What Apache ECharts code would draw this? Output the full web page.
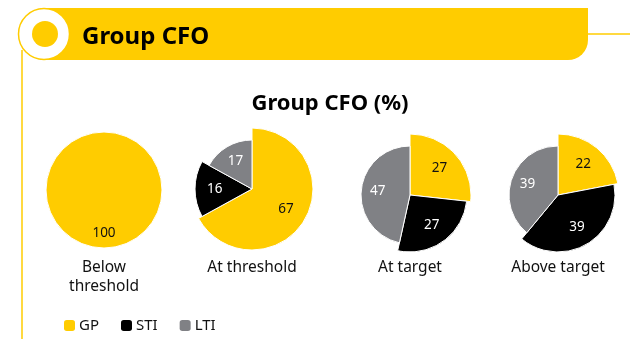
<!DOCTYPE html>
<html>
<head>
<meta charset="utf-8">
<script src="https://cdn.jsdelivr.net/npm/echarts@6/dist/echarts.min.js"></script>
<style>
  html, body { margin: 0; padding: 0; background: #fff; }
  #chart { width: 630px; height: 339px; }
</style>
</head>
<body>
<div id="chart"></div>
<script>
// Pay-mix scenarios for the Group CFO (% of total package)
const categories = ['Below\nthreshold', 'At threshold', 'At target', 'Above target'];
const components = ['GP', 'STI', 'LTI'];
const gpValues  = [100, 67, 27, 22];
const stiValues = [0, 16, 27, 39];
const ltiValues = [0, 17, 47, 39];

// Styling and layout
const COLORS = { GP: '#FFCC00', STI: '#000000', LTI: '#808185' };
const LABEL_COLORS = { GP: '#111111', STI: '#ffffff', LTI: '#ffffff' };
const YELLOW = '#FFCC00';
const FONT = '"Noto Sans", sans-serif';
const CENTERS = [[104, 190], [252, 189], [410, 195], [558, 195]];
const RADII = [[58, 58, 58], [61, 57, 49], [61, 57, 49], [61, 57, 49]];
const LABEL_RATIO = [0.7, 0.6, 0.6, 0.6];

const valuesBy = { GP: gpValues, STI: stiValues, LTI: ltiValues };

const series = [];
categories.forEach((cat, p) => {
  const vals = components.map(c => valuesBy[c][p]);
  components.forEach((comp, k) => {
    // one ring per component so each slice gets its own radius
    series.push({
      type: 'pie',
      name: comp,
      center: CENTERS[p],
      radius: [0, RADII[p][k]],
      startAngle: 90,
      clockwise: true,
      silent: true,
      animation: false,
      itemStyle: { color: COLORS[comp] },
      label: { show: false },
      labelLine: { show: false },
      data: components.map((c, i) => ({
        name: c,
        value: vals[i],
        itemStyle: i === k
          ? { color: COLORS[c], borderColor: '#ffffff', borderWidth: vals[i] > 0 ? 1 : 0 }
          : { color: 'transparent', borderWidth: 0 }
      }))
    });
    // transparent twin that only carries the value label
    series.push({
      type: 'pie',
      name: comp + ' value',
      center: CENTERS[p],
      radius: [0, RADII[p][k] * LABEL_RATIO[p] * 2],
      startAngle: 90,
      clockwise: true,
      silent: true,
      animation: false,
      labelLine: { show: false },
      data: components.map((c, i) => ({
        name: c,
        value: vals[i],
        itemStyle: { color: 'transparent', borderWidth: 0 },
        label: {
          show: i === k && vals[i] > 0,
          position: 'inside',
          formatter: '{c}',
          color: LABEL_COLORS[c],
          fontFamily: FONT,
          fontSize: 13.5
        }
      }))
    });
  });
});

const graphics = [
  // header band with rounded lower-right corner
  { type: 'rect', shape: { x: 40, y: 8, width: 548, height: 52, r: [0, 0, 20, 0] },
    style: { fill: YELLOW }, z: 1 },
  { type: 'line', shape: { x1: 588, y1: 34, x2: 630, y2: 34 },
    style: { stroke: YELLOW, lineWidth: 1.5 }, z: 1 },
  { type: 'line', shape: { x1: 22, y1: 50, x2: 22, y2: 339 },
    style: { stroke: YELLOW, lineWidth: 1.5 }, z: 1 },
  { type: 'circle', shape: { cx: 44, cy: 34, r: 25.5 },
    style: { fill: '#ffffff', stroke: YELLOW, lineWidth: 1.5 }, z: 2 },
  { type: 'circle', shape: { cx: 45, cy: 34, r: 13 },
    style: { fill: YELLOW }, z: 3 },
  { type: 'text', x: 82, y: 37, z: 3,
    style: { text: 'Group CFO', fill: '#000', font: 'bold 24px ' + FONT, textVerticalAlign: 'middle' } },
  // chart title
  { type: 'text', x: 330, y: 104, z: 3,
    style: { text: 'Group CFO (%)', fill: '#000', font: 'bold 22px ' + FONT,
             textAlign: 'center', textVerticalAlign: 'middle' } }
];

categories.forEach((cat, p) => {
  graphics.push({
    type: 'text', x: CENTERS[p][0], y: 258, z: 3,
    style: { text: cat, fill: '#111', font: '15.5px ' + FONT, textAlign: 'center',
             textVerticalAlign: 'top', lineHeight: 19 }
  });
});

const chart = echarts.init(document.getElementById('chart'), null, { renderer: 'canvas' });
chart.setOption({
  animation: false,
  legend: {
    data: components,
    left: 59,
    top: 313,
    itemWidth: 11,
    itemHeight: 11,
    itemGap: 22,
    icon: 'roundRect',
    selectedMode: false,
    textStyle: { fontFamily: FONT, fontSize: 15, color: '#111', padding: [0, 0, 0, -1] }
  },
  graphic: graphics,
  series: series
});
</script>
</body>
</html>
